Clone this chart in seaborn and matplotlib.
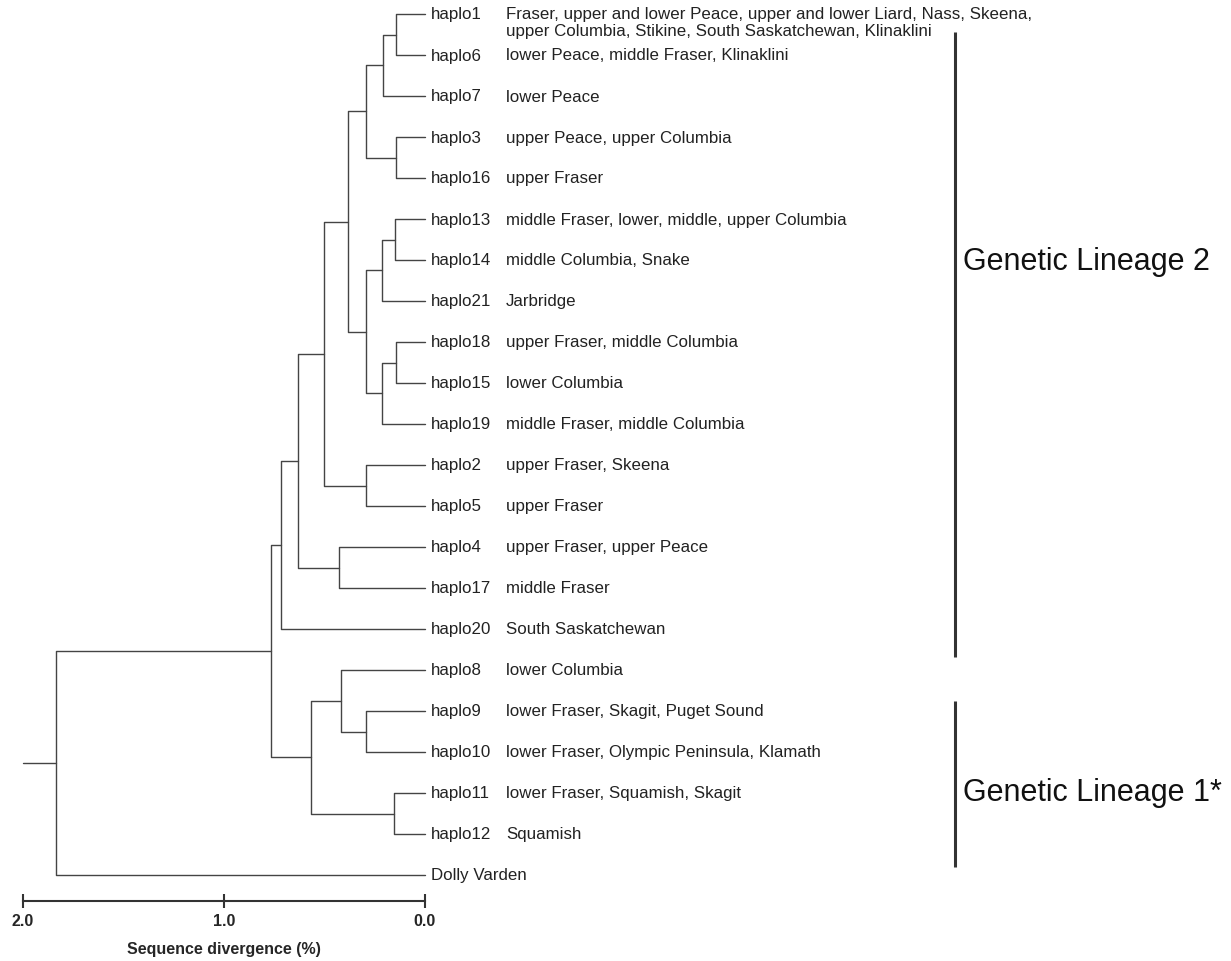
import numpy as np
import pandas as pd
import matplotlib.pyplot as plt
import seaborn as sns

# leaves, top to bottom
leaves = ["haplo1", "haplo6", "haplo7", "haplo3", "haplo16", "haplo13", "haplo14",
          "haplo21", "haplo18", "haplo15", "haplo19", "haplo2", "haplo5", "haplo4",
          "haplo17", "haplo20", "haplo8", "haplo9", "haplo10", "haplo11", "haplo12",
          "Dolly Varden"]
regions = ["Fraser, upper and lower Peace, upper and lower Liard, Nass, Skeena,\n"
           "upper Columbia, Stikine, South Saskatchewan, Klinaklini",
           "lower Peace, middle Fraser, Klinaklini",
           "lower Peace",
           "upper Peace, upper Columbia",
           "upper Fraser",
           "middle Fraser, lower, middle, upper Columbia",
           "middle Columbia, Snake",
           "Jarbridge",
           "upper Fraser, middle Columbia",
           "lower Columbia",
           "middle Fraser, middle Columbia",
           "upper Fraser, Skeena",
           "upper Fraser",
           "upper Fraser, upper Peace",
           "middle Fraser",
           "South Saskatchewan",
           "lower Columbia",
           "lower Fraser, Skagit, Puget Sound",
           "lower Fraser, Olympic Peninsula, Klamath",
           "lower Fraser, Squamish, Skagit",
           "Squamish",
           ""]

# merges (n0, n1, ...) and their divergence (%)
merge_a = ["haplo1", "n0", "haplo3", "n1", "haplo13", "n4", "haplo18", "n6", "n5",
           "n3", "haplo2", "n9", "haplo4", "n11", "n13", "haplo9", "haplo8",
           "haplo11", "n16", "n14", "n19"]
merge_b = ["haplo6", "haplo7", "haplo16", "n2", "haplo14", "haplo21", "haplo15",
           "haplo19", "n7", "n8", "haplo5", "n10", "haplo17", "n12", "haplo20",
           "haplo10", "n15", "haplo12", "n17", "n18", "Dolly Varden"]
merge_h = [0.144, 0.209, 0.144, 0.294, 0.149, 0.214, 0.144, 0.214, 0.294, 0.383,
           0.294, 0.502, 0.428, 0.632, 0.716, 0.294, 0.418, 0.154, 0.567, 0.766,
           1.836]
root_edge = 2.0

lineages = ["Genetic Lineage 2", "Genetic Lineage 1*"]
lineage_span = [(0.44, 15.68), (16.76, 20.8)]
lineage_text_y = [6.02, 18.98]

scale_ticks = [2.0, 1.0, 0.0]

# build the elbow segments
pos = {name: (0.0, float(i)) for i, name in enumerate(leaves)}
rows = []
for k, (a, b, h) in enumerate(zip(merge_a, merge_b, merge_h)):
    xa, ya = pos[a]
    xb, yb = pos[b]
    for j, (x, y) in enumerate([(xa, ya), (h, ya), (h, yb), (xb, yb)]):
        rows.append({"seg": k, "order": j, "x": x, "y": y})
    pos["n%d" % k] = (h, (ya + yb) / 2)
rx, ry = pos["n%d" % (len(merge_h) - 1)]
rows.append({"seg": len(merge_h), "order": 0, "x": rx, "y": ry})
rows.append({"seg": len(merge_h), "order": 1, "x": root_edge, "y": ry})
seg_df = pd.DataFrame(rows)

sns.set_theme(style='white')
plt.rcParams['font.family'] = ['Liberation Sans', 'DejaVu Sans']

fig = plt.figure(figsize=(12.31, 9.62), dpi=100)
ax = fig.add_axes([0, 60 / 962, 1, 902 / 962])

sns.lineplot(data=seg_df, x="x", y="y", units="seg", estimator=None, sort=False,
             color="#444444", linewidth=1.0, ax=ax)

for i, (name, reg) in enumerate(zip(leaves, regions)):
    ax.text(-0.03, i, name, ha='left', va='center', fontsize=12.2, color='#222222')
    for j, line in enumerate(reg.split("\n")):
        if line:
            ax.text(-0.403, i + j * 0.4, line, ha='left', va='center',
                    fontsize=12.2, color='#222222')

for lab, (y0, y1), ty in zip(lineages, lineage_span, lineage_text_y):
    ax.plot([-2.637, -2.637], [y0, y1], color='#333333', lw=2.2,
            solid_capstyle='butt')
    ax.text(-2.675, ty, lab, ha='left', va='center', fontsize=22, color='#111111')

ax.set_xlim(425 / 201, (425 - 1231) / 201)
ax.set_ylim((902 - 15) / 41, -15 / 41)
ax.set_yticks([])
ax.set_ylabel("")
ax.set_xticks(scale_ticks)
ax.set_xticklabels(["%.1f" % t for t in scale_ticks], fontweight='bold', fontsize=11.5)
ax.tick_params(axis='x', direction='inout', length=10, width=1.5, pad=4,
               color='#333333', bottom=True)
for s in ["top", "left", "right"]:
    ax.spines[s].set_visible(False)
ax.spines["bottom"].set_bounds(0.0, 2.0)
ax.spines["bottom"].set_linewidth(1.5)
ax.spines["bottom"].set_color('#333333')
ax.set_xlabel("Sequence divergence (%)", fontweight='bold', fontsize=11.5)
ax.xaxis.set_label_coords(224 / 1231, -40 / 902)

plt.savefig('out.png', dpi=100)
